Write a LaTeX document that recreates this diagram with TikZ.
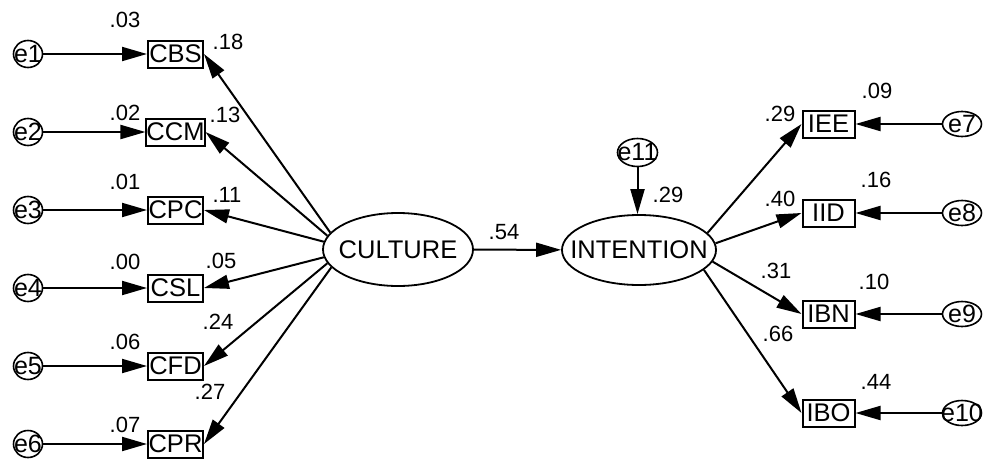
\documentclass[tikz,border=0pt]{standalone}
\usepackage{fontspec}
\setmainfont{Liberation Sans}
\usetikzlibrary{arrows.meta,shapes.geometric}

\begin{document}
\begin{tikzpicture}[x=1pt,y=-1pt,
  obs/.style={draw,line width=2pt,minimum width=55pt,minimum height=27pt,
    inner sep=0pt,font=\fontsize{25.5}{25.5}\selectfont},
  obsr/.style={obs,minimum width=52pt},
  latent/.style={draw,ellipse,line width=1.8pt,inner sep=0pt},
  ltext/.style={inner sep=0pt,font=\fontsize{25.5}{25.5}\selectfont},
  errl/.style={draw,ellipse,line width=1.6pt,minimum width=29pt,minimum height=27pt,inner sep=0pt},
  errr/.style={draw,ellipse,line width=1.6pt,minimum width=39pt,minimum height=25pt,inner sep=0pt},
  etext/.style={inner sep=0pt,font=\fontsize{25}{25}\selectfont},
  num/.style={inner sep=0pt,font=\fontsize{22}{22}\selectfont},
  pth/.style={line width=2pt,-{Triangle[length=25pt,width=14pt]}}]

\useasboundingbox (0,0) rectangle (984,463);

% latent variables: outline and name drawn separately so the outline keeps its size
\node[latent,minimum width=150pt,minimum height=73pt] (cul) at (398,249.5) {};
\node[ltext] (cult) at (cul) {CULTURE};
\node[latent,minimum width=154pt,minimum height=70pt] (int) at (639,250) {};
\node[ltext] (intt) at (int) {INTENTION};

% culture indicators and their error terms
\foreach \n/\y in {CBS/54,CCM/132,CPC/210,CSL/288,CFD/366,CPR/444}{
  \node[obs] (\n) at (175.5,\y) {\n};
}
\foreach \i/\y in {1/54,2/132,3/210,4/288,5/366,6/444}{
  \node[errl] (e\i) at (28,\y) {};
  \node[etext] (e\i t) at (e\i) {e\i};
}

% intention indicators and their error terms
\foreach \n/\y in {IEE/124,IID/213,IBN/314,IBO/413}{
  \node[obsr] (\n) at (828.5,\y) {\n};
}
\foreach \i/\y in {7/124,8/213,9/314,10/413}{
  \node[errr] (e\i) at (962,\y) {};
  \node[etext] (e\i t) at (e\i) {e\i};
}

% structural disturbance
\node[errr,minimum width=40pt,minimum height=28pt] (e11) at (637.5,152.5) {};
\node[etext] (e11t) at (e11) {e11};

% error paths
\draw[pth] (e1) -- (CBS);
\draw[pth] (e2) -- (CCM);
\draw[pth] (e3) -- (CPC);
\draw[pth] (e4) -- (CSL);
\draw[pth] (e5) -- (CFD);
\draw[pth] (e6) -- (CPR);
\draw[pth] (e7) -- (IEE);
\draw[pth] (e8) -- (IID);
\draw[pth] (e9) -- (IBN);
\draw[pth] (e10) -- (IBO);
\draw[pth] (e11.south) -- (e11.south |- int.north);

% loadings
\draw[pth] (cul.166) -- (CBS.east);
\draw[pth] (cul.169) -- (CCM.east);
\draw[pth] (cul.174) -- (CPC.east);
\draw[pth] (cul.186) -- (CSL.east);
\draw[pth] (cul.191) -- (CFD.east);
\draw[pth] (cul.195) -- (CPR.east);
\draw[pth] (int.14) -- (IEE.west);
\draw[pth] (int.5) -- (IID.west);
\draw[pth] (int.-9) -- (IBN.west);
\draw[pth] (int.-17) -- (IBO.west);

% structural path
\draw[pth] (cul) -- (int);

% squared multiple correlations
\node[num] (r1) at (125,20) {.03};
\node[num] (r2) at (125,113) {.02};
\node[num] (r3) at (125,182) {.01};
\node[num] (r4) at (125,262) {.00};
\node[num] (r5) at (125,342) {.06};
\node[num] (r6) at (125,425) {.07};
\node[num] (r7) at (877,91) {.09};
\node[num] (r8) at (876,180) {.16};
\node[num] (r9) at (874,282) {.10};
\node[num] (r10) at (876,382) {.44};
\node[num] (r11) at (668,195) {.29};

% standardized weights
\node[num] (w1) at (228,42) {.18};
\node[num] (w2) at (225,115) {.13};
\node[num] (w3) at (227,195) {.11};
\node[num] (w4) at (221,261) {.05};
\node[num] (w5) at (218,322) {.24};
\node[num] (w6) at (210,392) {.27};
\node[num] (w7) at (780,114) {.29};
\node[num] (w8) at (780,199) {.40};
\node[num] (w9) at (776,271) {.31};
\node[num] (w10) at (778,334) {.66};
\node[num] (w11) at (504,232) {.54};
\end{tikzpicture}
\end{document}
